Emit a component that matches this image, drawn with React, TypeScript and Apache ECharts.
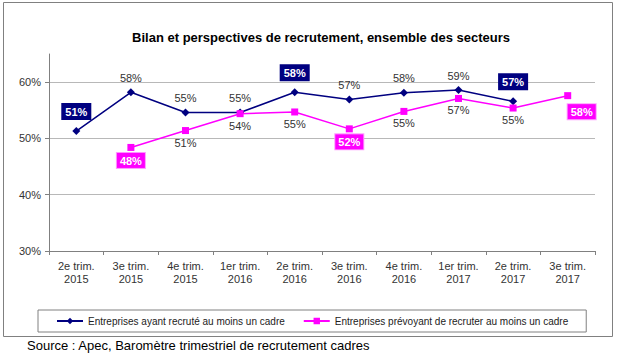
import React, { useEffect, useRef } from "react";
import * as echarts from "echarts";

const categories = [
  "2e trim.\n2015",
  "3e trim.\n2015",
  "4e trim.\n2015",
  "1er trim.\n2016",
  "2e trim.\n2016",
  "3e trim.\n2016",
  "4e trim.\n2016",
  "1er trim.\n2017",
  "2e trim.\n2017",
  "3e trim.\n2017",
];

const recruitedName = "Entreprises ayant recruté au moins un cadre";
const plannedName = "Entreprises prévoyant de recruter au moins un cadre";

const recruited: (number | null)[] = [51.3, 58.2, 54.6, 54.6, 58.2, 56.9, 58.1, 58.6, 56.6, null];
const planned: (number | null)[] = [null, 48.4, 51.4, 54.4, 54.7, 51.7, 54.8, 57.1, 55.4, 57.6];

const recruitedBoxed = [0, 4, 8];
const plannedBoxed = [1, 5, 9];

const yTicks = [30, 40, 50, 60];

const FONT = 'Arial, "Liberation Sans", sans-serif';
const NAVY = "#000080";
const PINK = "#FF00FF";

const fmt = (p: any) => Math.round(p.value) + "%";

export default function App() {
  const ref = useRef<HTMLDivElement>(null);

  useEffect(() => {
    if (!ref.current) return;
    const chart = echarts.init(ref.current, null, { renderer: "svg" });

    const plain = (position: string, distance: number) => ({
      show: true,
      position,
      distance,
      formatter: fmt,
      color: "#333",
      fontSize: 11,
      fontFamily: FONT,
    });
    const boxed = (position: string, distance: number, bg: string, offset?: number[]) => ({
      show: true,
      position,
      distance,
      formatter: fmt,
      color: "#fff",
      fontWeight: "bold",
      fontSize: 11,
      fontFamily: FONT,
      backgroundColor: bg,
      padding: [2, 3, 1, 3],
      lineHeight: 12,
      borderColor: bg === PINK ? "#ff9cff" : bg,
      borderWidth: 1,
      offset,
    });

    const recruitedData = recruited.map((v, i) =>
      v == null
        ? null
        : {
            value: v,
            label: recruitedBoxed.includes(i) ? boxed("top", 8, NAVY) : plain("top", 5),
          }
    );
    const plannedData = planned.map((v, i) =>
      v == null
        ? null
        : {
            value: v,
            label: plannedBoxed.includes(i)
              ? i === categories.length - 1
                ? boxed("bottom", 2, PINK, [14, 3])
                : boxed("bottom", 2, PINK)
              : plain("bottom", 3),
          }
    );

    chart.setOption({
      animation: false,
      backgroundColor: "#fff",
      textStyle: { fontFamily: FONT },
      title: {
        text: "Bilan et perspectives de recrutement, ensemble des secteurs",
        left: 316,
        textAlign: "center",
        top: 26,
        textStyle: { fontSize: 13, fontWeight: "bold", color: "#000", fontFamily: FONT },
      },
      graphic: [
        {
          type: "rect",
          shape: { x: 3.5, y: 2.5, width: 609, height: 334 },
          style: { fill: "none", stroke: "#808080", lineWidth: 1 },
          silent: true,
        },
        {
          type: "text",
          left: 27,
          top: 339,
          style: {
            text: "Source : Apec, Baromètre trimestriel de recrutement cadres",
            fontSize: 13,
            fontFamily: FONT,
            fill: "#000",
          },
        },
      ],
      legend: {
        left: 38,
        top: 310,
        orient: "horizontal",
        padding: [6, 18, 6, 18],
        itemGap: 18,
        itemWidth: 26,
        itemHeight: 8,
        borderColor: "#808080",
        borderWidth: 1,
        textStyle: { fontSize: 10, color: "#222", fontFamily: FONT },
        data: [recruitedName, plannedName],
      },
      grid: { left: 49, right: 26, top: 54, bottom: 106 },
      xAxis: {
        type: "category",
        data: categories,
        boundaryGap: true,
        axisLine: { lineStyle: { color: "#808080", width: 1 } },
        axisTick: { show: true, length: 4, lineStyle: { color: "#808080" } },
        axisLabel: {
          interval: 0,
          color: "#333",
          fontSize: 11,
          lineHeight: 13,
          margin: 8,
          fontFamily: FONT,
        },
      },
      yAxis: {
        type: "value",
        min: yTicks[0],
        max: 65,
        interval: 10,
        axisLine: { show: true, lineStyle: { color: "#808080", width: 1 } },
        axisTick: { show: true, length: 4, lineStyle: { color: "#808080" } },
        axisLabel: {
          formatter: (v: number) => (yTicks.includes(v) ? v + "%" : ""),
          showMaxLabel: false,
          color: "#333",
          fontSize: 11,
          margin: 8,
          fontFamily: FONT,
        },
        splitLine: {
          show: true,
          showMaxLine: false,
          lineStyle: { color: "#b8b8b8", width: 1 },
        },
      },
      series: [
        {
          name: recruitedName,
          type: "line",
          data: recruitedData,
          symbol: "diamond",
          symbolSize: 8,
          showAllSymbol: true,
          connectNulls: false,
          lineStyle: { color: NAVY, width: 1.5 },
          itemStyle: { color: NAVY },
          z: 2,
        },
        {
          name: plannedName,
          type: "line",
          data: plannedData,
          symbol: "rect",
          symbolSize: 7,
          showAllSymbol: true,
          connectNulls: false,
          lineStyle: { color: PINK, width: 1.5 },
          itemStyle: { color: PINK },
          z: 3,
        },
      ],
    });

    return () => chart.dispose();
  }, []);

  return (
    <div
      ref={ref}
      style={{ position: "fixed", left: 0, top: 0, width: 621, height: 357 }}
    />
  );
}
